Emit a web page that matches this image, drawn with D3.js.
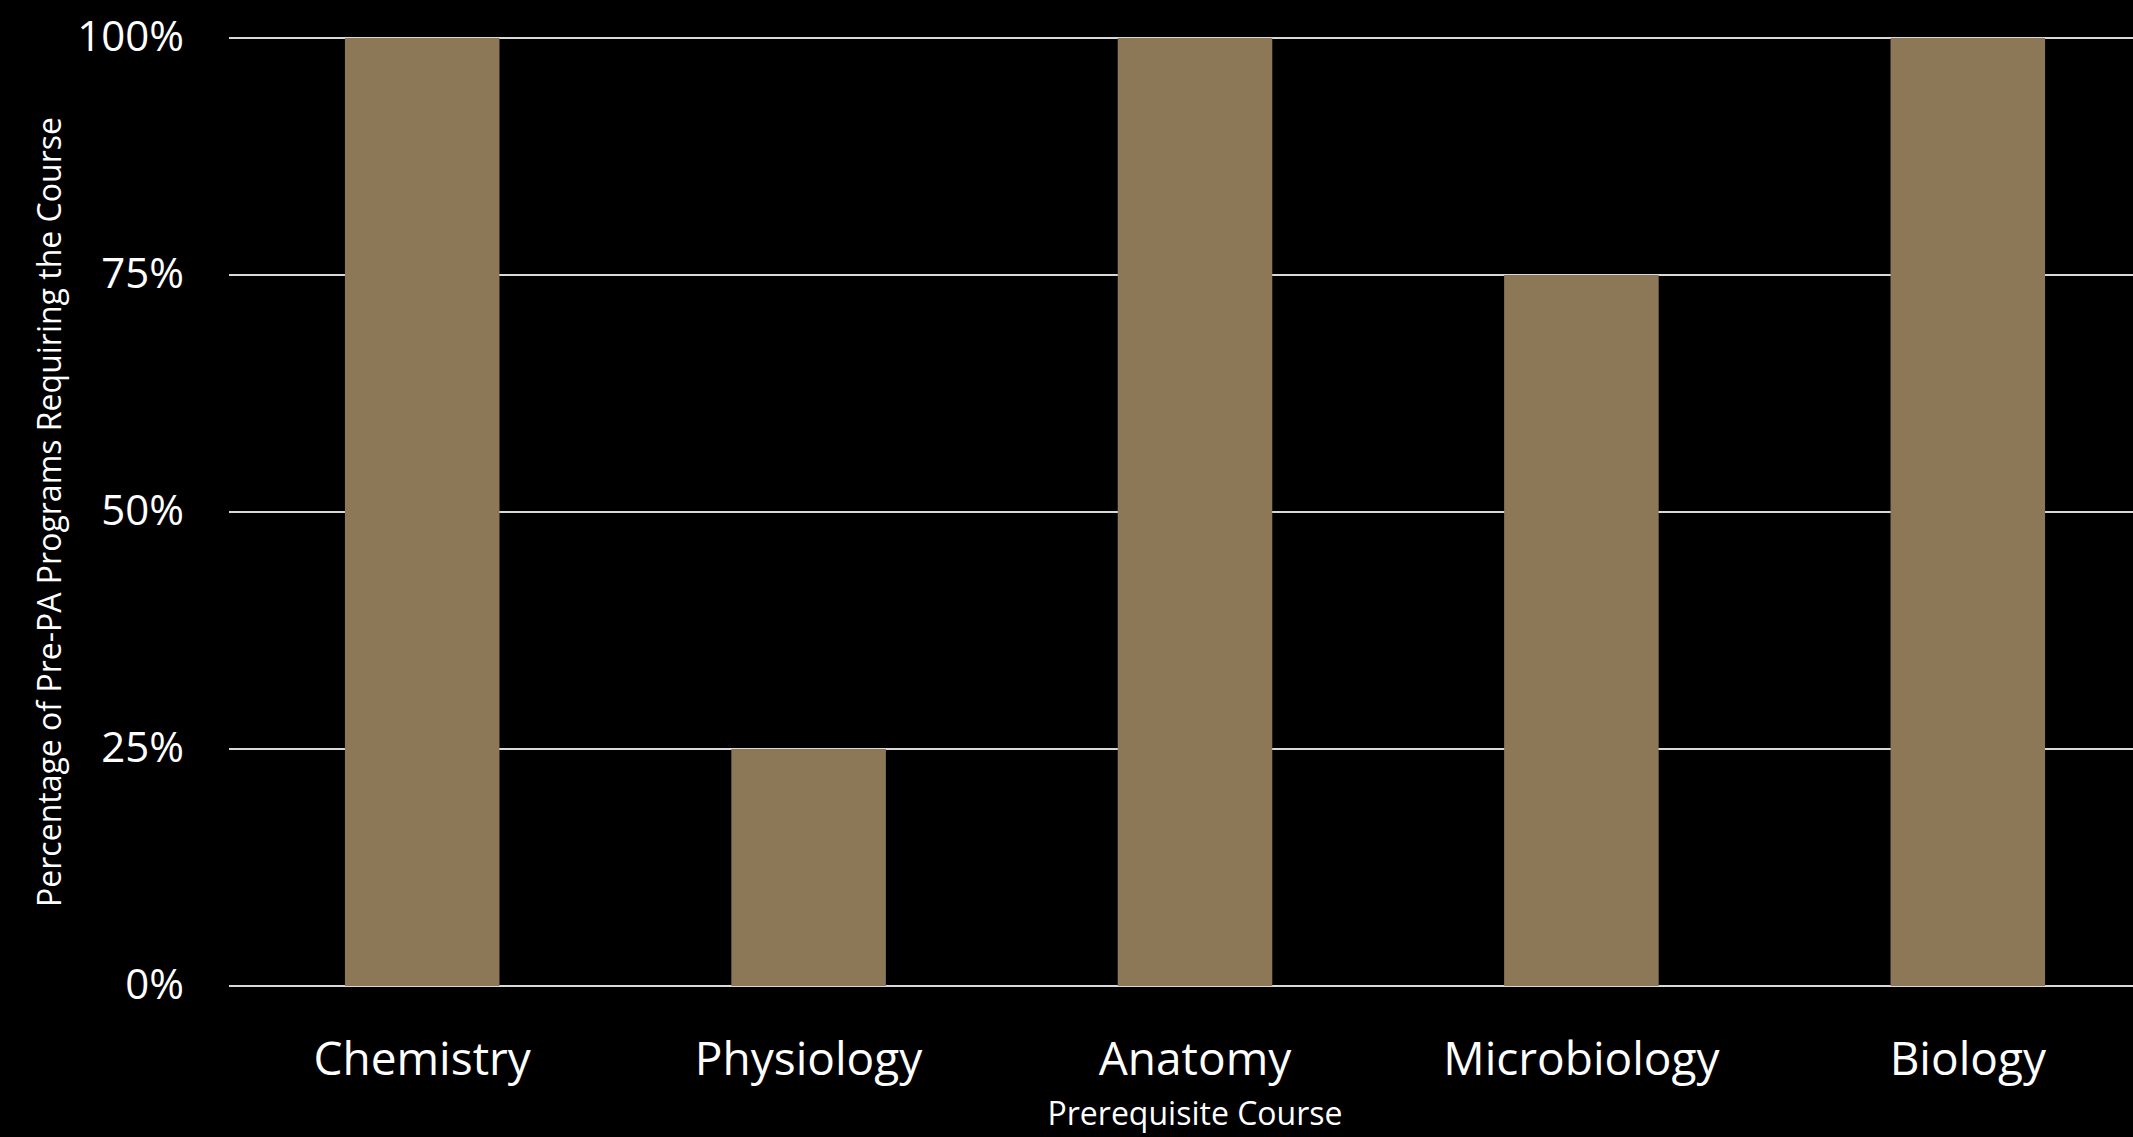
<!DOCTYPE html>
<html lang="en">
<head>
<meta charset="UTF-8">
<title>Prerequisite Courses</title>
<script src="https://d3js.org/d3.v7.min.js"></script>
<style>
    body { margin: 0; background: #000; overflow: hidden; }
    svg { display: block; }
    text { font-family: 'Open Sans', sans-serif; fill: #fff; }
    .grid line { stroke: #d9d9d9; stroke-width: 2; }
    .bar { fill: #8c7856; }
</style>
</head>
<body>
<svg id="chart" width="2133" height="1137"></svg>
<script>
const courses = ["Chemistry", "Physiology", "Anatomy", "Microbiology", "Biology"];
const shares = [1.00, 0.25, 1.00, 0.75, 1.00];
const yTicks = [0, 0.25, 0.5, 0.75, 1];

const svg = d3.select("#chart");
const plotLeft = 229, plotRight = 2161, plotTop = 38, plotBottom = 986;

const x = d3.scaleBand()
    .domain(courses)
    .range([plotLeft, plotRight])
    .paddingInner(0.6)
    .paddingOuter(0.3);

const y = d3.scaleLinear().domain([0, 1]).range([plotBottom, plotTop]);

// horizontal gridlines
svg.append("g").attr("class", "grid")
    .selectAll("line")
    .data(yTicks)
    .join("line")
    .attr("x1", plotLeft).attr("x2", 2133)
    .attr("y1", d => y(d)).attr("y2", d => y(d));

// bars
svg.append("g")
    .selectAll("rect")
    .data(courses)
    .join("rect")
    .attr("class", "bar")
    .attr("x", d => x(d))
    .attr("width", x.bandwidth())
    .attr("y", (d, i) => y(shares[i]))
    .attr("height", (d, i) => y(0) - y(shares[i]));

// y tick labels
svg.append("g")
    .selectAll("text")
    .data(yTicks)
    .join("text")
    .attr("x", 184)
    .attr("y", d => y(d) + 2)
    .attr("text-anchor", "end")
    .attr("dominant-baseline", "middle")
    .style("font-size", "42px")
    .text(d3.format(".0%"));

// x tick labels
svg.append("g")
    .selectAll("text")
    .data(courses)
    .join("text")
    .attr("x", d => x(d) + x.bandwidth() / 2)
    .attr("y", 1075)
    .attr("text-anchor", "middle")
    .style("font-size", "46px")
    .text(d => d);

// axis titles
svg.append("text")
    .attr("transform", `translate(61, ${(plotTop + plotBottom) / 2}) rotate(-90)`)
    .attr("text-anchor", "middle")
    .style("font-size", "32px")
    .text("Percentage of Pre-PA Programs Requiring the Course");

svg.append("text")
    .attr("x", (plotLeft + plotRight) / 2)
    .attr("y", 1125)
    .attr("text-anchor", "middle")
    .style("font-size", "32px")
    .text("Prerequisite Course");
</script>
</body>
</html>
